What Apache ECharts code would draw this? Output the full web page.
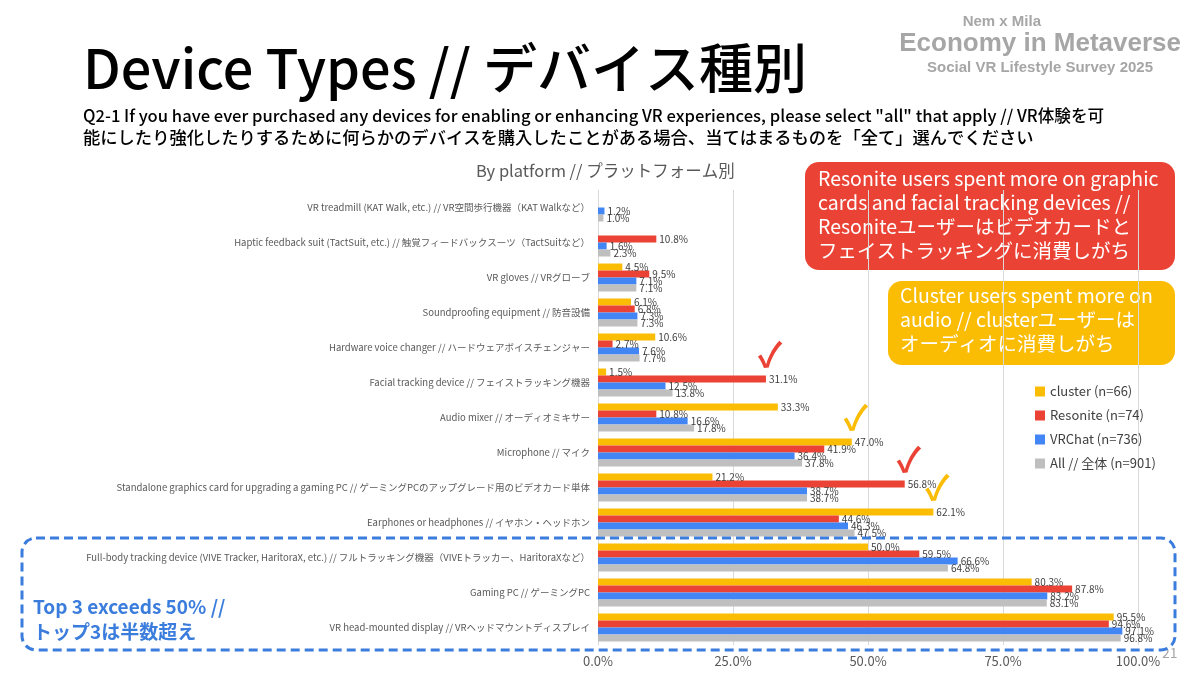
<!DOCTYPE html>
<html><head><meta charset="utf-8">
<script src="https://cdn.jsdelivr.net/npm/echarts@6/dist/echarts.min.js"></script>
<style>html,body{margin:0;padding:0;background:#fff}#c{width:1200px;height:675px}</style>
</head><body><div id="c"></div>
<script>
const categories = [
  "VR treadmill (KAT Walk, etc.) // VR空間歩行機器（KAT Walkなど）",
  "Haptic feedback suit (TactSuit, etc.) // 触覚フィードバックスーツ（TactSuitなど）",
  "VR gloves // VRグローブ",
  "Soundproofing equipment // 防音設備",
  "Hardware voice changer // ハードウェアボイスチェンジャー",
  "Facial tracking device // フェイストラッキング機器",
  "Audio mixer // オーディオミキサー",
  "Microphone // マイク",
  "Standalone graphics card for upgrading a gaming PC // ゲーミングPCのアップグレード用のビデオカード単体",
  "Earphones or headphones // イヤホン・ヘッドホン",
  "Full-body tracking device (VIVE Tracker, HaritoraX, etc.) // フルトラッキング機器（VIVEトラッカー、HaritoraXなど）",
  "Gaming PC // ゲーミングPC",
  "VR head-mounted display // VRヘッドマウントディスプレイ"
];
const seriesNames = ["cluster (n=66)", "Resonite (n=74)", "VRChat (n=736)", "All // 全体 (n=901)"];
const cluster  = [0, 0, 4.5, 6.1, 10.6, 1.5, 33.3, 47.0, 21.2, 62.1, 50.0, 80.3, 95.5];
const resonite = [0, 10.8, 9.5, 6.8, 2.7, 31.1, 10.8, 41.9, 56.8, 44.6, 59.5, 87.8, 94.6];
const vrchat   = [1.2, 1.6, 7.1, 7.3, 7.6, 12.5, 16.6, 36.4, 38.7, 46.3, 66.6, 83.2, 97.1];
const all      = [1.0, 2.3, 7.1, 7.3, 7.7, 13.8, 17.8, 37.8, 38.7, 47.5, 64.8, 83.1, 96.8];
const xTicks = [0, 25, 50, 75, 100];
// check marks: [series index, category index]
const checks = [[1, 5], [0, 7], [1, 8], [0, 9]];

const colors = ["#fbbc04", "#ea4335", "#4285f4", "#bfbfbf"];
const dataSets = [cluster, resonite, vrchat, all];
const FONT = "'Noto Sans CJK JP','Noto Sans',sans-serif";

const series = dataSets.map((d, si) => {
  const marks = checks.filter(c => c[0] === si).map(c => ({
    coord: [d[c[1]], categories[c[1]]]
  }));
  return {
    name: seriesNames[si],
    type: 'bar',
    data: d,
    barGap: '0%',
    barCategoryGap: '20%',
    itemStyle: { color: colors[si] },
    label: {
      show: true, position: 'right', distance: 3,
      fontFamily: FONT, fontSize: 10, color: '#404040',
      formatter: p => p.value > 0 ? p.value.toFixed(1) + '%' : ''
    },
    markPoint: marks.length ? {
      symbol: 'rect', symbolSize: 1,
      itemStyle: { color: 'rgba(0,0,0,0)' },
      label: { show: true, position: 'inside', formatter: '✓', fontSize: 34, fontWeight: 'bold',
        color: colors[si], offset: [4, -25] },
      data: marks
    } : undefined
  };
});

const chart = echarts.init(document.getElementById('c'));
chart.setOption({
  animation: false,
  textStyle: { fontFamily: FONT },
  grid: { left: 598, right: 62, top: 190, bottom: 30, containLabel: false },
  xAxis: {
    type: 'value', min: xTicks[0], max: xTicks[xTicks.length - 1], interval: 25,
    axisLabel: { formatter: v => v.toFixed(1) + '%', fontSize: 13, color: '#595959', margin: 10, fontFamily: FONT },
    splitLine: { lineStyle: { color: '#d9d9d9' } },
    axisLine: { show: false }, axisTick: { show: false }
  },
  yAxis: {
    type: 'category', data: categories, inverse: true,
    axisLine: { show: true, lineStyle: { color: '#d9d9d9' } },
    axisTick: { show: false },
    axisLabel: { fontSize: 9.5, color: '#595959', margin: 8, fontFamily: FONT }
  },
  legend: {
    orient: 'vertical', left: 1030, top: 380,
    data: seriesNames, icon: 'rect', itemWidth: 10, itemHeight: 10, itemGap: 11,
    textStyle: { fontSize: 13, color: '#404040', fontFamily: FONT }
  },
  series: series,
  graphic: [
    { type: 'text', left: 83, top: 41, style: { text: 'Device Types // デバイス種別', font: "500 54px " + FONT, fill: '#000' } },
    { type: 'text', left: 83, top: 107, style: { text: 'Q2-1 If you have ever purchased any devices for enabling or enhancing VR experiences, please select "all" that apply // VR体験を可', font: "500 16.6px " + FONT, fill: '#000' } },
    { type: 'text', left: 83, top: 129, style: { text: '能にしたり強化したりするために何らかのデバイスを購入したことがある場合、当てはまるものを「全て」選んでください', font: "500 17.3px " + FONT, fill: '#000' } },
    { type: 'text', left: 476, top: 162, style: { text: 'By platform // プラットフォーム別', font: "16.5px " + FONT, fill: '#595959' } },
    { type: 'text', right: 159, top: 14, style: { text: 'Nem x Mila', font: "bold 15px 'Liberation Sans',Arial,sans-serif", fill: '#a6a6a6' } },
    { type: 'text', right: 19, top: 31, style: { text: 'Economy in Metaverse', font: "bold 26px 'Liberation Sans',Arial,sans-serif", fill: '#a6a6a6' } },
    { type: 'text', right: 47, top: 60, style: { text: 'Social VR Lifestyle Survey 2025', font: "bold 15px 'Liberation Sans',Arial,sans-serif", fill: '#a6a6a6' } },
    { type: 'rect', shape: { x: 805, y: 162, width: 370, height: 108, r: 14 }, style: { fill: '#ea4335' } },
    { type: 'text', left: 818, top: 166, style: { text: 'Resonite users spent more on graphic\ncards and facial tracking devices //\nResoniteユーザーはビデオカードと\nフェイストラッキングに消費しがち', font: "19.5px " + FONT, fill: '#fff', lineHeight: 24.3 } },
    { type: 'rect', shape: { x: 888, y: 281, width: 287, height: 84, r: 14 }, style: { fill: '#fbbc04' } },
    { type: 'text', left: 900, top: 284, style: { text: 'Cluster users spent more on\naudio // clusterユーザーは\nオーディオに消費しがち', font: "19.5px " + FONT, fill: '#fff', lineHeight: 24 } },
    { type: 'rect', shape: { x: 22, y: 538, width: 1153, height: 112, r: 14 }, style: { fill: 'none', stroke: '#3b7ddd', lineWidth: 3, lineDash: [9, 5] }, z: 100 },
    { type: 'text', left: 33, top: 594, style: { text: 'Top 3 exceeds 50% //\nトップ3は半数超え', font: "bold 19px " + FONT, fill: '#3b7ddd', lineHeight: 25 } },
    { type: 'text', left: 1162, top: 646, style: { text: '21', font: "14px " + FONT, fill: '#a6a6a6' } }
  ]
});
</script></body></html>
